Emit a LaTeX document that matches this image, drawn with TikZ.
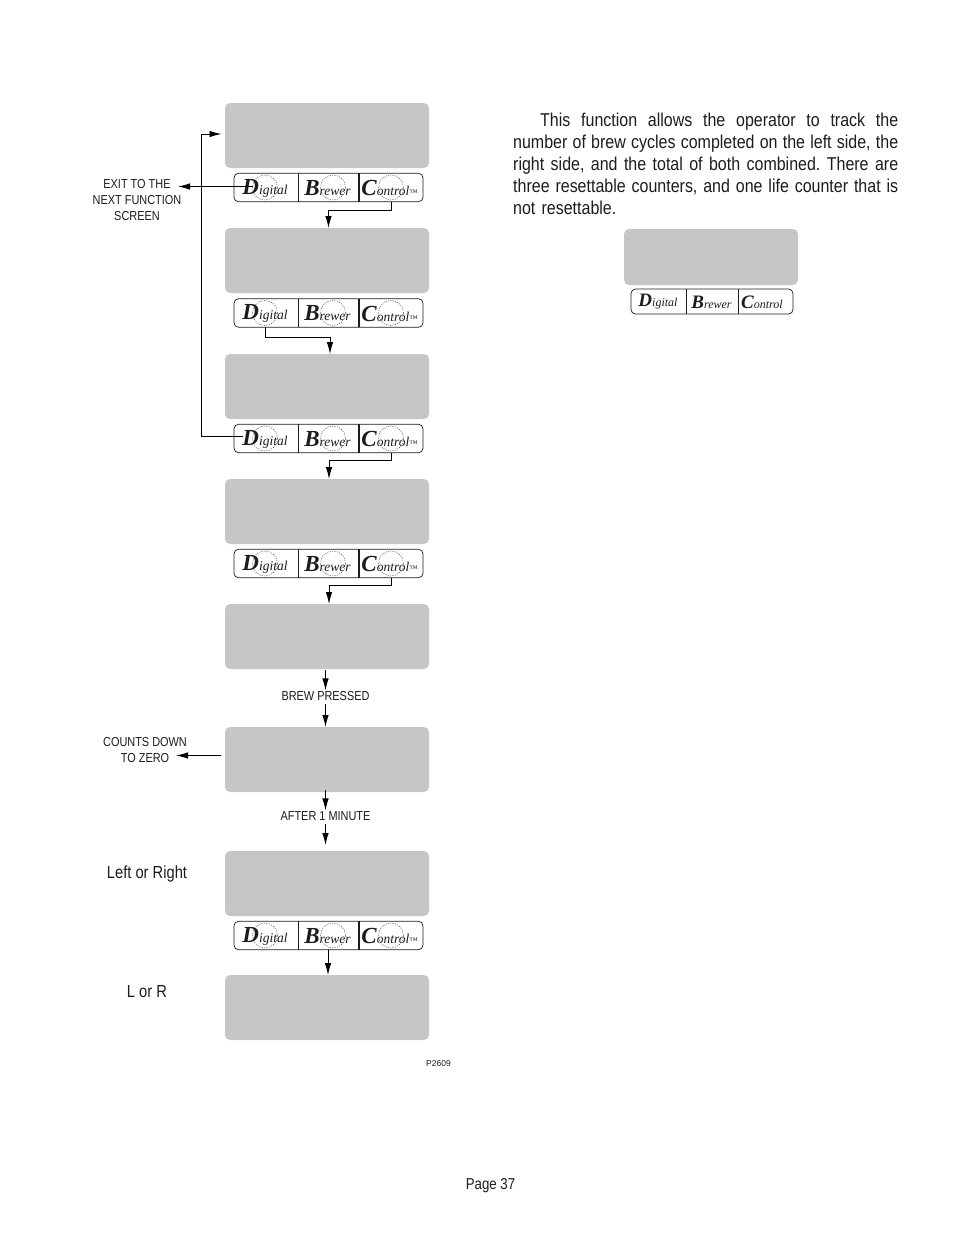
\documentclass[tikz,border=0pt]{standalone}
\usepackage{fontspec}
\usetikzlibrary{arrows.meta,calc}
\setmainfont{Liberation Sans}
\newfontfamily\nar[FakeStretch=0.84]{Liberation Sans}
\newfontfamily\parf[FakeStretch=0.86]{Liberation Sans}
\newfontfamily\logof{Liberation Serif}
\definecolor{lcd}{HTML}{C6C6C6}
\definecolor{ink}{HTML}{1C1C1C}
\newcommand{\logoword}[4]{{\logof\itshape\bfseries\fontsize{#1}{#1}\selectfont #3}{\logof\itshape\fontsize{#2}{#2}\selectfont #4}}
\newcommand{\fl}[1]{\leavevmode\hbox to 385pt{#1}}
\tikzset{
  screen/.style={fill=lcd,rounded corners=5pt,minimum width=204pt,minimum height=65pt,inner sep=0,outer sep=0},
  smallscreen/.style={screen,minimum width=174pt,minimum height=56pt},
  barbox/.style={draw=ink,line width=0.7pt,rounded corners=4.5pt,minimum width=189pt,minimum height=28.5pt,inner sep=0,outer sep=0},
  smallbar/.style={barbox,minimum width=162pt,minimum height=25pt},
  ring/.style={circle,draw=ink,line width=0.35pt,dash pattern=on 1.2pt off 1.2pt,minimum size=25pt,inner sep=0,outer sep=0},
  arr/.style={draw=black,line width=0.9pt,-{Latex[length=12pt,width=6.5pt]}},
  lab/.style={font=\nar\fontsize{13}{15.6}\selectfont,text=ink,align=center,inner sep=0,outer sep=0},
  big/.style={font=\nar\fontsize{17.5}{19}\selectfont,text=ink,inner sep=0},
  word/.style={inner sep=0,text=ink}
}
\begin{document}
\begin{tikzpicture}[x=1pt,y=-1pt]
\useasboundingbox (0,0) rectangle (954,1235);
% screens
\foreach \n/\yy in {1/135.5,2/260.5,3/386.5,4/511.5,5/636.5,6/759.5,7/883.5,8/1007.5}
  \node[screen] (s\n) at (327,\yy) {};
% button bars
\foreach \n/\yy in {1/187.5,2/313,3/438.5,4/563.5,5/935.5}{
  \node[barbox] (b\n) at (328.5,\yy) {};
  \draw[ink,line width=0.7pt] (298,\yy-14.2) -- (298,\yy+14.2);
  \draw[ink,line width=1.2pt] (359,\yy-14.2) -- (359,\yy+14.2);
  \node[ring] (d\n) at (265,\yy) {};
  \node[ring] (w\n) at (333,\yy) {};
  \node[ring] (c\n) at (391,\yy) {};
  \node[word] at (265,\yy+0.5) {\logoword{23}{13.5}{D}{igital}};
  \node[word] at (327.5,\yy+0.5) {\logoword{23}{13.5}{B}{rewer}};
  \node[word] at (389.5,\yy+0.5) {\logoword{23}{13.5}{C}{ontrol}{\logof\fontsize{8.5}{8.5}\selectfont ™}};
}
% right panel
\node[smallscreen] (r) at (711,257) {};
\node[smallbar] (rb) at (712,301.5) {};
\draw[ink,line width=0.7pt] (686.5,289) -- (686.5,314);
\draw[ink,line width=0.7pt] (738.5,289) -- (738.5,314);
\node[word] at (658,302) {\logoword{19}{12}{D}{igital}};
\node[word] at (711.5,302) {\logoword{19}{12}{B}{rewer}};
\node[word] at (762,302) {\logoword{19}{12}{C}{ontrol}};
% labels
\node[lab] (exit) at (137,200) {EXIT TO THE\\NEXT FUNCTION\\SCREEN};
\node[lab] (counts) at (145,750) {COUNTS DOWN\\TO ZERO};
\node[lab] (brew) at (325.5,696.5) {BREW PRESSED};
\node[lab] (after) at (325.5,816.5) {AFTER 1 MINUTE};
\node[big] (lr) at (147,874) {Left or Right};
\node[big] (lor) at (147,992) {L or R};
\node[inner sep=0,text=ink,font=\fontsize{8.5}{10}\selectfont] (code) at (438.5,1064) {P2609};
\node[inner sep=0,text=ink,font=\nar\fontsize{15.8}{17}\selectfont] (page) at (490.5,1186) {Page 37};
% paragraph
\node[anchor=north west,inner sep=0,text=ink,text width=385pt,align=left,
      font=\parf\fontsize{18.6}{22.1}\selectfont] (para) at (513,112.5) {%
\fl{\hspace*{27pt}This\hfill function\hfill allows\hfill the\hfill operator\hfill to\hfill track\hfill the}\\
\fl{number\hfill of\hfill brew\hfill cycles\hfill completed\hfill on\hfill the\hfill left\hfill side,\hfill the}\\
\fl{right\hfill side,\hfill and\hfill the\hfill total\hfill of\hfill both\hfill combined.\hfill There\hfill are}\\
\fl{three\hfill resettable\hfill counters,\hfill and\hfill one\hfill life\hfill counter\hfill that\hfill is}\\
not resettable.};
% connectors
\coordinate (tipexit) at (178,186.5);
\coordinate (tipcount) at (176,755.5);
\coordinate (loopin) at (221.5,134);
\coordinate (loopx) at (201.5,436);
\coordinate (loopstart) at (243,436);
\draw[arr] (tipexit -| d1.west) -- (tipexit);
\draw[arr] (loopstart) -- (loopx) |- (loopin);
\draw[arr] (c1.center |- b1.south) -- ++(0,9) -| ([xshift=1.5pt]s2.north);
\draw[arr] (d2.center |- b2.south) -- ++(0,10) -| ([xshift=3pt]s3.north);
\draw[arr] (c3.center |- b3.south) -- ++(0,8) -| ([xshift=2pt]s4.north);
\draw[arr] (c4.center |- b4.south) -- ++(0,8) -| ([xshift=2pt]s5.north);
\draw[arr] ([yshift=-1pt]s5.south -| brew.north) -- ([yshift=1.5pt]brew.north);
\draw[arr] ([yshift=-3pt]brew.south) -- (brew.south |- s6.north);
\draw[arr] ([yshift=2pt]s6.south -| after.north) -- ([yshift=1.5pt]after.north);
\draw[arr] ([yshift=-3pt]after.south) -- ([yshift=6pt]after.south |- s7.north);
\draw[arr] (328,950) -- ([xshift=1pt]s8.north);
\draw[arr] (s6.west |- tipcount) ++(-4,0) -- (tipcount);
\end{tikzpicture}
\end{document}
